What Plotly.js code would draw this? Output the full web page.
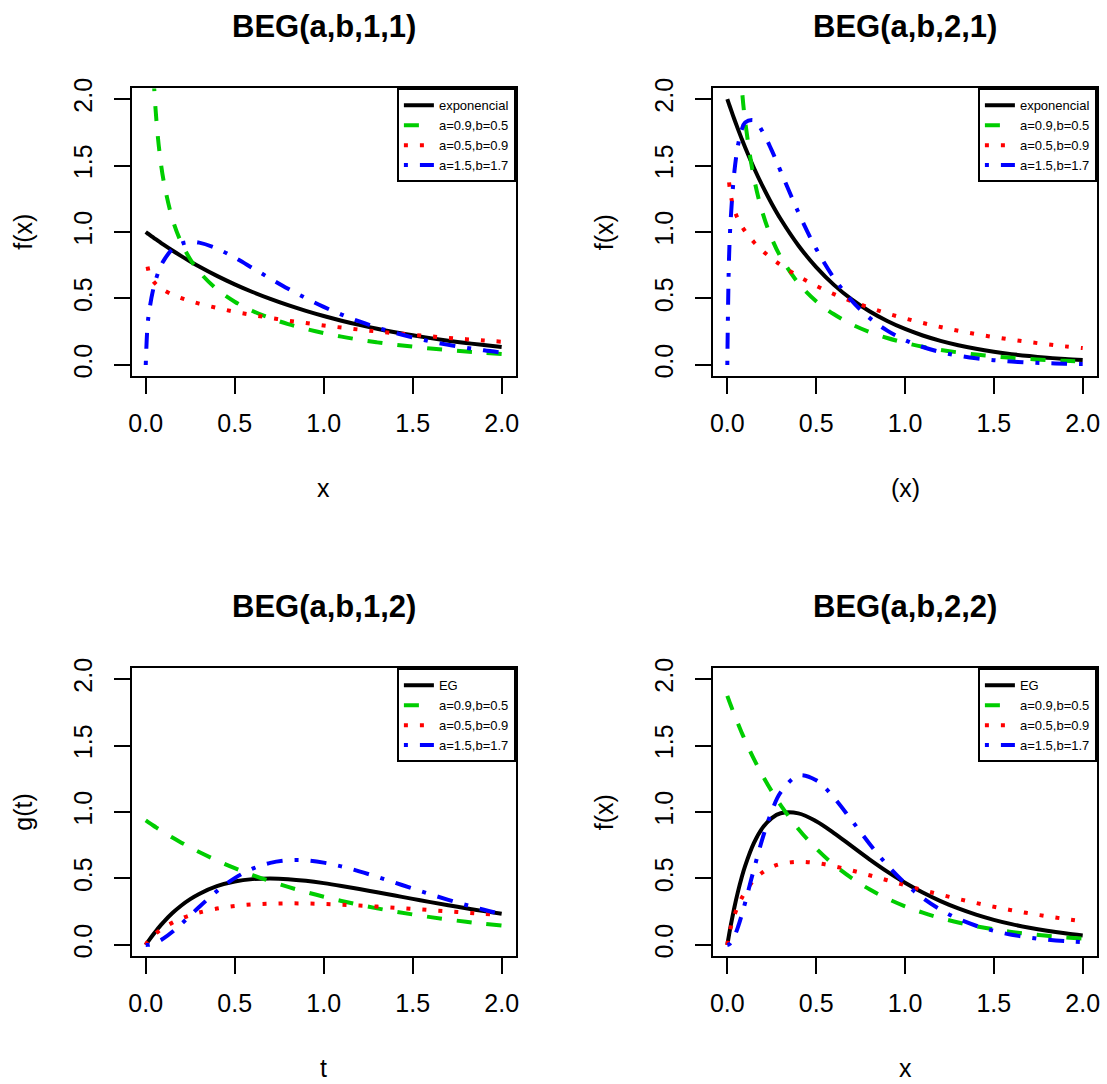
<!DOCTYPE html>
<html>
<head>
<meta charset="utf-8">
<script src="https://cdn.plot.ly/plotly-3.0.1.min.js"></script>
<style>
  html, body { margin: 0; padding: 0; background: #fff; }
  #chart { width: 1107px; height: 1084px; }
</style>
</head>
<body>
<div id="chart"></div>
<script>
// ---- data ----
const xs = [0, 0.01, 0.02, 0.04, 0.06, 0.08, 0.1, 0.15, 0.2, 0.25, 0.3, 0.4, 0.5, 0.6, 0.7, 0.8, 0.9, 1.0, 1.1, 1.2, 1.3, 1.4, 1.5, 1.6, 1.7, 1.8, 1.9, 2.0];

const panelTitles = ["BEG(a,b,1,1)", "BEG(a,b,2,1)", "BEG(a,b,1,2)", "BEG(a,b,2,2)"];
const xTitles = ["x", "(x)", "t", "x"];
const yTitles = ["f(x)", "f(x)", "g(t)", "f(x)"];
const seriesNamesTop = ["exponencial", "a=0.9,b=0.5", "a=0.5,b=0.9", "a=1.5,b=1.7"];
const seriesNamesBottom = ["EG", "a=0.9,b=0.5", "a=0.5,b=0.9", "a=1.5,b=1.7"];
const tickValues = [0, 0.5, 1, 1.5, 2];
const tickLabels = ["0.0", "0.5", "1.0", "1.5", "2.0"];

// Panel 1: BEG(a,b,1,1)
const p1Black = [1, 0.9900, 0.9802, 0.9608, 0.9418, 0.9231, 0.9048, 0.8607, 0.8187, 0.7788, 0.7408, 0.6703, 0.6065, 0.5488, 0.4966, 0.4493, 0.4066, 0.3679, 0.3329, 0.3012, 0.2725, 0.2466, 0.2231, 0.2019, 0.1827, 0.1653, 0.1496, 0.1353];
const p1Green = [null, 4.654, 3.269, 2.282, 1.839, 1.572, 1.388, 1.097, 0.919, 0.795, 0.702, 0.569, 0.476, 0.406, 0.352, 0.307, 0.271, 0.240, 0.213, 0.190, 0.170, 0.153, 0.138, 0.124, 0.112, 0.101, 0.092, 0.083];
const p1Red = [null, 0.739, 0.686, 0.635, 0.604, 0.582, 0.564, 0.529, 0.503, 0.481, 0.461, 0.429, 0.400, 0.376, 0.354, 0.333, 0.315, 0.297, 0.281, 0.266, 0.252, 0.239, 0.227, 0.215, 0.204, 0.194, 0.184, 0.175];
const p1Blue = [0, 0.295, 0.409, 0.557, 0.656, 0.729, 0.783, 0.871, 0.912, 0.926, 0.920, 0.876, 0.807, 0.729, 0.650, 0.573, 0.502, 0.437, 0.379, 0.327, 0.282, 0.242, 0.207, 0.177, 0.151, 0.129, 0.110, 0.093];

// Panel 2: BEG(a,b,2,1)
const p2Black = [2, 1.9604, 1.9216, 1.8462, 1.7738, 1.7043, 1.6375, 1.4816, 1.3406, 1.2131, 1.0976, 0.8987, 0.7358, 0.6024, 0.4932, 0.4038, 0.3306, 0.2707, 0.2216, 0.1814, 0.1485, 0.1216, 0.0996, 0.0815, 0.0667, 0.0546, 0.0447, 0.0366];
const p2Green = [null, 6.539, 4.564, 3.144, 2.501, 2.110, 1.838, 1.405, 1.138, 0.952, 0.813, 0.615, 0.479, 0.381, 0.306, 0.248, 0.203, 0.167, 0.137, 0.113, 0.094, 0.078, 0.065, 0.054, 0.045, 0.037, 0.031, 0.026];
const p2Red = [null, 1.373, 1.270, 1.163, 1.097, 1.047, 1.006, 0.923, 0.857, 0.801, 0.752, 0.667, 0.595, 0.533, 0.479, 0.431, 0.388, 0.350, 0.316, 0.285, 0.257, 0.232, 0.210, 0.190, 0.172, 0.155, 0.140, 0.127];
const p2Blue = [0, 0.819, 1.114, 1.457, 1.651, 1.764, 1.824, 1.841, 1.751, 1.614, 1.458, 1.147, 0.874, 0.654, 0.484, 0.354, 0.258, 0.187, 0.135, 0.097, 0.070, 0.050, 0.036, 0.026, 0.018, 0.013, 0.009, 0.007];

// Panel 3: BEG(a,b,1,2)
const p3Black = [0, 0.0197, 0.0388, 0.0753, 0.1097, 0.1419, 0.1722, 0.2398, 0.2968, 0.3445, 0.3840, 0.4420, 0.4773, 0.4952, 0.5000, 0.4949, 0.4825, 0.4651, 0.4441, 0.4210, 0.3965, 0.3716, 0.3467, 0.3223, 0.2986, 0.2760, 0.2544, 0.2340];
const p3Green = [0.9369, 0.9276, 0.9184, 0.9003, 0.8826, 0.8654, 0.8485, 0.8080, 0.7696, 0.7333, 0.6989, 0.6353, 0.5779, 0.5260, 0.4790, 0.4365, 0.3978, 0.3627, 0.3308, 0.3017, 0.2753, 0.2512, 0.2293, 0.2093, 0.1911, 0.1745, 0.1593, 0.1455];
const p3Red = [0, 0.0232, 0.0399, 0.0675, 0.0909, 0.1114, 0.1297, 0.1682, 0.1990, 0.2238, 0.2440, 0.2738, 0.2931, 0.3048, 0.3109, 0.3129, 0.3117, 0.3082, 0.3028, 0.2962, 0.2885, 0.2801, 0.2713, 0.2621, 0.2528, 0.2434, 0.2340, 0.2247];
const p3Blue = [0, 0.0006, 0.0023, 0.0089, 0.0192, 0.0327, 0.0490, 0.0992, 0.1582, 0.2215, 0.2854, 0.4047, 0.5025, 0.5735, 0.6175, 0.6370, 0.6361, 0.6192, 0.5906, 0.5539, 0.5124, 0.4686, 0.4242, 0.3809, 0.3395, 0.3008, 0.2650, 0.2323];

// Panel 4: BEG(a,b,2,2)
const p4Black = [0, 0.0776, 0.1507, 0.2839, 0.4012, 0.5040, 0.5936, 0.7680, 0.8840, 0.9546, 0.9905, 0.9897, 0.9302, 0.8419, 0.7432, 0.6445, 0.5519, 0.4681, 0.3941, 0.3300, 0.2750, 0.2284, 0.1892, 0.1564, 0.1290, 0.1063, 0.0875, 0.0719];
const p4Green = [1.8738, 1.8367, 1.8006, 1.7307, 1.6640, 1.6003, 1.5392, 1.3978, 1.2706, 1.1558, 1.0520, 0.8729, 0.7254, 0.6035, 0.5025, 0.4187, 0.3490, 0.2910, 0.2428, 0.2026, 0.1691, 0.1411, 0.1178, 0.0983, 0.0821, 0.0686, 0.0573, 0.0478];
const p4Red = [0, 0.0797, 0.1350, 0.2228, 0.2925, 0.3499, 0.3979, 0.4880, 0.5476, 0.5862, 0.6096, 0.6258, 0.6163, 0.5923, 0.5603, 0.5242, 0.4867, 0.4494, 0.4131, 0.3785, 0.3460, 0.3156, 0.2874, 0.2614, 0.2375, 0.2157, 0.1957, 0.1775];
const p4Blue = [0, 0.0046, 0.0178, 0.0654, 0.1353, 0.2209, 0.3164, 0.5707, 0.8093, 1.0050, 1.1470, 1.2739, 1.2384, 1.1079, 0.9371, 0.7618, 0.6015, 0.4647, 0.3530, 0.2647, 0.1964, 0.1446, 0.1058, 0.0770, 0.0558, 0.0403, 0.0290, 0.0209];

// ---- styling ----
const FONT = "Liberation Sans, Arial, Helvetica, sans-serif";
const W = 1107, H = 1084;
const styles = [
  { color: "#000000", dash: "solid" },
  { color: "#00CD00", dash: "15px,15px" },
  { color: "#FF0000", dash: "4px,12px" },
  { color: "#0000FF", dash: "4px,12px,16px,12px" }
];
const panels = [
  { ys: [p1Black, p1Green, p1Red, p1Blue], names: seriesNamesTop },
  { ys: [p2Black, p2Green, p2Red, p2Blue], names: seriesNamesTop },
  { ys: [p3Black, p3Green, p3Red, p3Blue], names: seriesNamesBottom },
  { ys: [p4Black, p4Green, p4Red, p4Blue], names: seriesNamesBottom }
];

// plot boxes in pixels [left, right, top, bottom]
const boxes = [
  [131.5, 515.9, 88.4, 375.6],
  [713.1, 1096.9, 88.4, 375.6],
  [131.5, 515.9, 668.4, 955.6],
  [713.1, 1096.9, 668.4, 955.6]
];

const traces = [];
const layout = {
  width: W, height: H,
  margin: { l: 0, r: 0, t: 0, b: 0 },
  paper_bgcolor: "#ffffff", plot_bgcolor: "#ffffff",
  font: { family: FONT, color: "#000" },
  showlegend: true,
  annotations: []
};

panels.forEach((p, i) => {
  const k = i + 1;
  const xa = "x" + (k === 1 ? "" : k), ya = "y" + (k === 1 ? "" : k);
  const legendId = "legend" + (k === 1 ? "" : k);
  p.ys.forEach((ys, j) => {
    traces.push({
      type: "scatter", mode: "lines",
      x: xs, y: ys, name: p.names[j],
      xaxis: xa, yaxis: ya, legend: legendId,
      line: { color: styles[j].color, dash: styles[j].dash, width: 4, shape: "spline", smoothing: 1 },
      connectgaps: false, hoverinfo: "skip"
    });
  });
  const b = boxes[i];
  const common = {
    range: [-0.08, 2.08], showgrid: false, zeroline: false,
    showline: true, mirror: true, linecolor: "#000", linewidth: 2,
    ticks: "outside", ticklen: 16, tickwidth: 2, tickcolor: "#000",
    tickmode: "array", tickvals: tickValues, ticktext: tickLabels,
    tickfont: { family: FONT, size: 25, color: "#000" },
    fixedrange: true
  };
  layout["xaxis" + (k === 1 ? "" : k)] = Object.assign({}, common, {
    domain: [b[0] / W, b[1] / W], anchor: ya, ticklabelstandoff: 8
  });
  layout["yaxis" + (k === 1 ? "" : k)] = Object.assign({}, common, {
    domain: [1 - b[3] / H, 1 - b[2] / H], anchor: xa, tickangle: -90, ticklabelstandoff: 12
  });
  layout[legendId] = {
    x: b[1] / W, y: 1 - b[2] / H, xanchor: "right", yanchor: "top",
    bgcolor: "#ffffff", bordercolor: "#000", borderwidth: 2,
    font: { family: FONT, size: 13, color: "#000" },
    traceorder: "normal", tracegroupgap: 0,
    entrywidth: 86, entrywidthmode: "pixels"
  };
  const cx = (b[0] + b[1]) / 2, cy = (b[2] + b[3]) / 2;
  layout.annotations.push({
    text: "<b>" + panelTitles[i] + "</b>", xref: "paper", yref: "paper",
    x: cx / W, y: 1 - (b[2] - 62) / H, xanchor: "center", yanchor: "middle",
    showarrow: false, font: { family: FONT, size: 31, color: "#000" }
  });
  layout.annotations.push({
    text: xTitles[i], xref: "paper", yref: "paper",
    x: cx / W, y: 1 - (b[3] + 112) / H, xanchor: "center", yanchor: "middle",
    showarrow: false, font: { family: FONT, size: 25, color: "#000" }
  });
  layout.annotations.push({
    text: yTitles[i], xref: "paper", yref: "paper",
    x: (b[0] - 108.8) / W, y: 1 - cy / H, xanchor: "center", yanchor: "middle",
    textangle: -90, showarrow: false, font: { family: FONT, size: 25, color: "#000" }
  });
});

Plotly.newPlot("chart", traces, layout, { staticPlot: true, displayModeBar: false });
</script>
</body>
</html>
